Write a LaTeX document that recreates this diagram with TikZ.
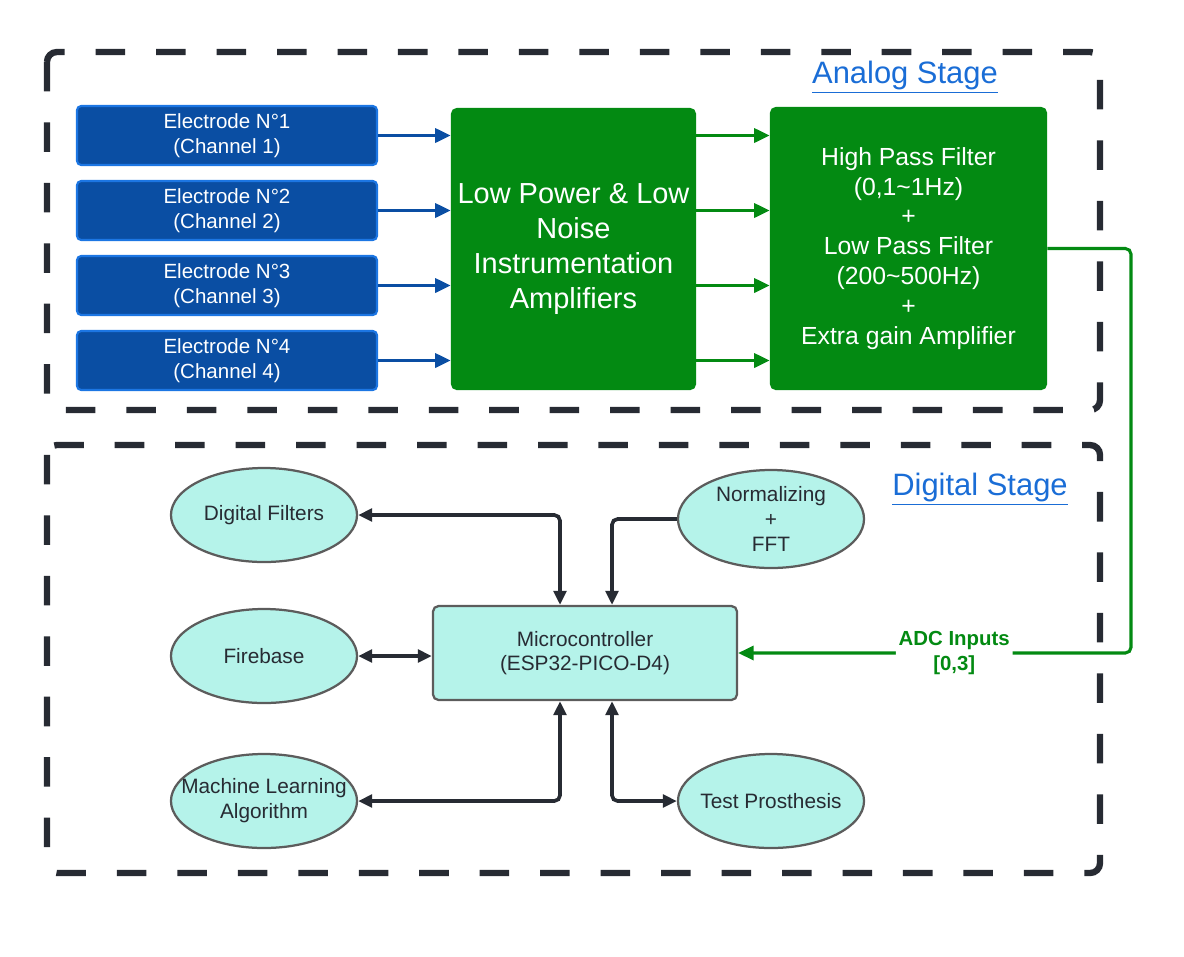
\documentclass[tikz,border=0pt]{standalone}
\usepackage{fontspec}
\setmainfont{Liberation Sans}
\usetikzlibrary{arrows.meta,positioning,calc,shapes.geometric}
\definecolor{frame}{HTML}{272B33}
\definecolor{elfill}{HTML}{0A4EA3}
\definecolor{eldraw}{HTML}{1C76E3}
\definecolor{gr}{HTML}{038A12}
\definecolor{cy}{HTML}{B5F3EA}
\definecolor{cydraw}{HTML}{5C5C5C}
\definecolor{ttl}{HTML}{1A6DD6}

\begin{document}
\begin{tikzpicture}[
        x=0.025cm,y=-0.025cm,
        stage/.style={draw=frame,line width=4.5pt,dash pattern=on 21pt off 22pt,
            rounded corners=7pt},
        electrode/.style={rectangle,rounded corners=3pt,fill=elfill,draw=eldraw,
            line width=1.5pt,text=white,minimum width=7.5cm,minimum height=1.475cm,
            align=center,font=\fontsize{14.6}{17.8}\selectfont},
        greenbox/.style={rectangle,rounded corners=4pt,fill=gr,text=white,align=center},
        soft/.style={ellipse,fill=cy,draw=cydraw,line width=1.6pt,text=frame,
            minimum width=4.65cm,minimum height=2.35cm,inner xsep=-0.5cm,
            inner ysep=-0.3cm,align=center,font=\fontsize{14.8}{17.8}\selectfont},
        bluearrow/.style={draw=elfill,line width=2.2pt,-{Triangle[length=11pt,width=10pt]}},
        greenarrow/.style={draw=gr,line width=2.2pt,-{Triangle[length=11pt,width=10pt]}},
        darrow/.style={draw=frame,line width=2.6pt,rounded corners=4pt,
            >={Triangle[length=10pt,width=9pt]},<->},
        sarrow/.style={draw=frame,line width=2.6pt,rounded corners=4pt,
            >={Triangle[length=10pt,width=9pt]},->},
        stagetitle/.style={text=ttl,font=\fontsize{22}{26}\selectfont},
    ]
\useasboundingbox (0,0) rectangle (1184,956);

% stages
\draw[stage] (47,52) rectangle (1100,410);
\draw[stage] (47,445) rectangle (1100,873);
\node[stagetitle] (analog) at (905,77) {\underline{Analog Stage}};
\node[stagetitle] (digital) at (980,489) {\underline{Digital Stage}};

% analog stage
\foreach \i/\y in {1/135.5,2/210.5,3/285.5,4/360.5}
  \node[electrode] (e\i) at (227,\y) {Electrode N°\i\\(Channel \i)};

\node[greenbox,minimum width=6.125cm,minimum height=7.05cm,
    font=\fontsize{20.6}{24.9}\selectfont] (amp) at (573.5,249)
    {Low Power \& Low\\Noise\\Instrumentation\\Amplifiers};
\node[greenbox,minimum width=6.925cm,minimum height=7.075cm,
    font=\fontsize{17.6}{21.3}\selectfont] (filt) at (908.5,248.5)
    {High Pass Filter\\(0,1\textasciitilde 1Hz)\\+\\Low Pass Filter\\(200\textasciitilde 500Hz)\\+\\Extra gain Amplifier};

\foreach \i in {1,...,4} {
  \draw[bluearrow] (e\i.east) -- (amp.west |- e\i.east);
  \draw[greenarrow] (amp.east |- e\i.east) -- (filt.west |- e\i.east);
}

% digital stage
\node[rectangle,rounded corners=4pt,fill=cy,draw=cydraw,line width=1.6pt,text=frame,
    minimum width=7.6cm,minimum height=2.35cm,align=center,
    font=\fontsize{14.8}{17}\selectfont] (micro) at (585,653)
    {Microcontroller\\(ESP32-PICO-D4)};

\node[soft] (df) at (264,515) {Digital Filters};
\node[soft] (fb) at (264,656) {Firebase};
\node[soft] (ml) at (264,801) {Machine Learning\\Algorithm};
\node[soft,minimum height=2.45cm] (nm) at (771,519) {Normalizing\\+\\FFT};
\node[soft] (tp) at (771,801) {Test Prosthesis};

\draw[darrow] (df.east) -| ($(micro.north)+(-25,0)$);
\draw[sarrow] (nm.west) -| ($(micro.north)+(27,0)$);
\draw[darrow] (fb.east) -- (micro.west |- fb.east);
\draw[darrow] (ml.east) -| ($(micro.south)+(-25,0)$);
\draw[darrow] ($(micro.south)+(27,0)$) |- (tp.west);

% ADC inputs
\coordinate (adc) at (1131,653);
\draw[greenarrow,rounded corners=4pt] (filt.east) -| (adc) -- (micro.east)
    node[pos=0.45,fill=white,text=gr,inner sep=2pt,align=center,
    font=\bfseries\fontsize{14.5}{17.5}\selectfont] (adclabel) {ADC Inputs\\{[0,3]}};
\end{tikzpicture}
\end{document}
